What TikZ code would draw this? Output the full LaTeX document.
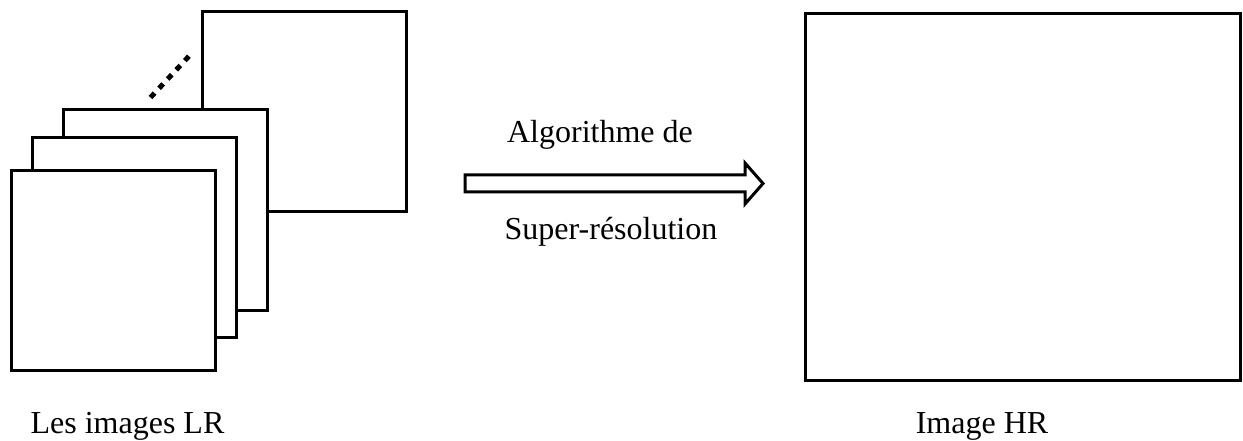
\documentclass[tikz,border=0pt]{standalone}
\usepackage{fontspec}
\setmainfont{Liberation Serif}
\begin{document}
\begin{tikzpicture}[x=1pt,y=-1pt,
  frame/.style={draw=black,line width=3pt,fill=white,inner sep=0pt,outer sep=0pt,minimum width=204pt,minimum height=200pt},
  lbl/.style={font=\fontsize{32}{38}\selectfont,anchor=base,inner sep=0pt}]
\useasboundingbox (0,0) rectangle (1243,441);
% stack of LR images
\node[frame] (back) at (304,111.5) {};
\draw[line width=5pt,dash pattern=on 6pt off 6.6pt] (150.5,97.5) -- (191,54);
\node[frame] (lr3) at (165.75,210) {};
\node[frame] (lr2) at (134.75,237.25) {};
\node[frame] (lr1) at (113,270.5) {};
\node[lbl] (lrlabel) at (127.5,433) {Les images LR};
% block arrow
\draw[line width=3pt,line join=miter,fill=white]
  (465,175) -- (745,175) -- (745,163) -- (763,183.5) -- (745,204) -- (745,192) -- (465,192) -- cycle;
\node[lbl] (alg) at (600,143) {Algorithme de};
\node[lbl] (sr) at (611,239) {Super-résolution};
% HR image
\node[frame,minimum width=435pt,minimum height=366pt] (hr) at (1022.5,197) {};
\node[lbl] (hrlabel) at (982,433) {Image HR};
\end{tikzpicture}
\end{document}
